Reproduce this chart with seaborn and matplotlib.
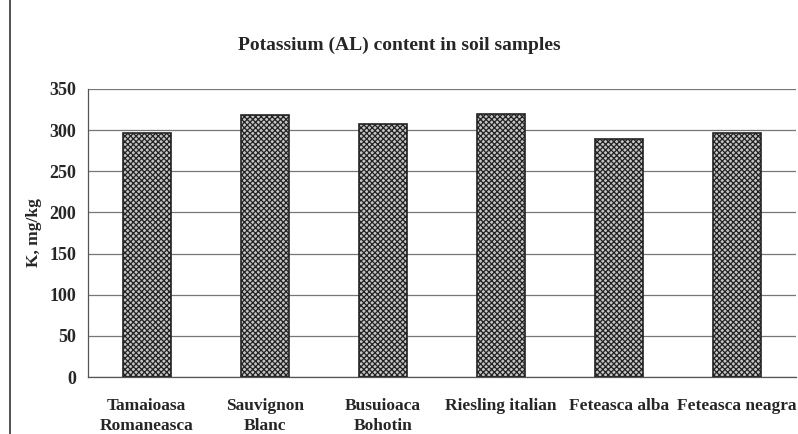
import matplotlib
matplotlib.use("Agg")
import matplotlib.pyplot as plt
import seaborn as sns
import pandas as pd
from matplotlib.lines import Line2D

varieties = ["Tamaioasa\nRomaneasca", "Sauvignon\nBlanc", "Busuioaca\nBohotin",
             "Riesling italian", "Feteasca alba", "Feteasca neagra"]
potassium = [297, 318, 307, 319, 289, 296]

df = pd.DataFrame({"variety": varieties, "K": potassium})

sns.set_style("white")
plt.rcParams["font.family"] = ["Liberation Serif", "DejaVu Serif"]
plt.rcParams["font.weight"] = "bold"
plt.rcParams["hatch.linewidth"] = 0.9

fig = plt.figure(figsize=(7.98, 4.34), dpi=100)
ax = fig.add_axes([0.110, 0.131, 0.8875, 0.664])

sns.barplot(data=df, x="variety", y="K", ax=ax, width=0.41,
            color="#c4c4c4", edgecolor="#222222", linewidth=1.2, zorder=3)
for bar in ax.patches:
    bar.set_hatch("xxxxxx")

ax.set_ylim(0, 350)
ax.set_yticks(range(0, 351, 50))
ax.set_xlim(-0.5, 5.5)
ax.yaxis.grid(True, color="#777777", linewidth=0.9)
ax.set_axisbelow(True)

for s in ["top", "right"]:
    ax.spines[s].set_visible(False)
for s in ["left", "bottom"]:
    ax.spines[s].set_color("#555555")
    ax.spines[s].set_linewidth(0.9)

ax.set_xticks([i - 0.5 for i in range(7)], minor=True)
ax.tick_params(axis="x", which="major", length=0, pad=15, labelsize=12.5)
ax.tick_params(axis="x", which="minor", length=5, color="#555555", direction="out")
ax.tick_params(axis="y", length=5, color="#555555", direction="out", labelsize=13)
for lbl in ax.get_xticklabels():
    lbl.set_fontweight("bold")
    lbl.set_linespacing(1.3)
for lbl in ax.get_yticklabels():
    lbl.set_fontweight("bold")

ax.set_xlabel("")
ax.set_ylabel("K, mg/kg", fontsize=12.5, fontweight="bold", labelpad=5)
fig.text(0.5, 0.895, "Potassium (AL) content in soil samples",
         ha="center", va="center", fontsize=14, fontweight="bold")

fig.add_artist(Line2D([0.013, 0.013], [0, 1], transform=fig.transFigure,
                      color="#333333", linewidth=1.2))

fig.savefig("out.png", dpi=100)
